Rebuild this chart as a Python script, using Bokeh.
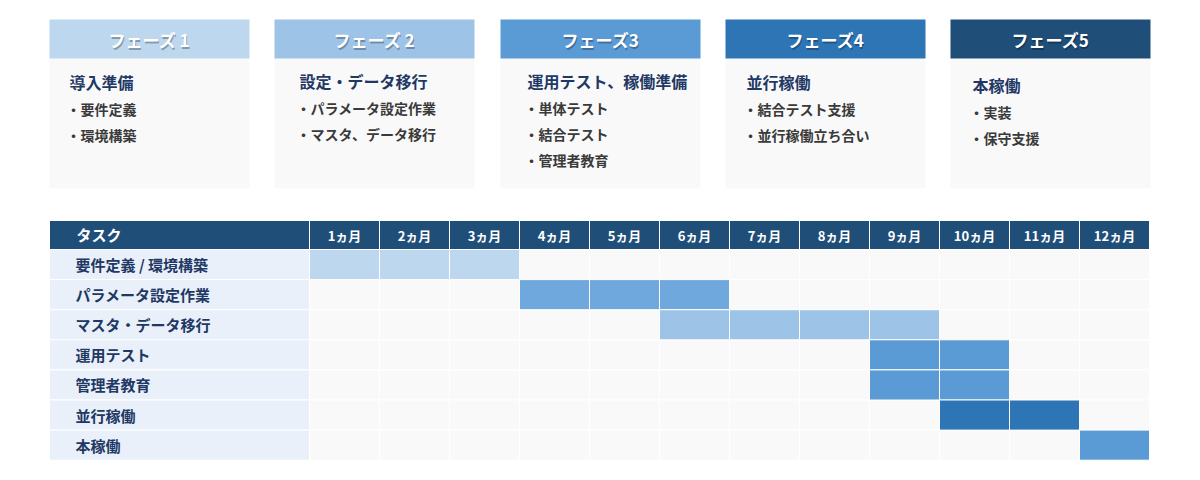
from bokeh.plotting import figure
from bokeh.models import Range1d, ColumnDataSource
from bokeh.core.properties import value
from bokeh.embed import file_html
from bokeh.resources import INLINE

# ---------------- data ----------------
phase_names = ["フェーズ 1", "フェーズ 2", "フェーズ3", "フェーズ4", "フェーズ5"]
phase_titles = ["導入準備", "設定・データ移行", "運用テスト、稼働準備", "並行稼働", "本稼働"]
phase_items = [
    ["要件定義", "環境構築"],
    ["パラメータ設定作業", "マスタ、データ移行"],
    ["単体テスト", "結合テスト", "管理者教育"],
    ["結合テスト支援", "並行稼働立ち合い"],
    ["実装", "保守支援"],
]
phase_colors = ["#BDD7EE", "#9DC3E6", "#5B9BD5", "#2E75B6", "#1F4E79"]

months = ["1ヵ月", "2ヵ月", "3ヵ月", "4ヵ月", "5ヵ月", "6ヵ月",
          "7ヵ月", "8ヵ月", "9ヵ月", "10ヵ月", "11ヵ月", "12ヵ月"]
tasks = ["要件定義 / 環境構築", "パラメータ設定作業", "マスタ・データ移行",
         "運用テスト", "管理者教育", "並行稼働", "本稼働"]
task_start = [1, 4, 6, 9, 9, 10, 12]
task_end = [3, 6, 9, 10, 10, 11, 12]
task_colors = ["#BDD7EE", "#6FA8DC", "#9DC3E6", "#5B9BD5", "#5B9BD5", "#2E75B6", "#5B9BD5"]

# ---------------- layout (page pixels -> chart units) ----------------
W, H = 1184, 464
ORIGIN = 0     # page offset of the figure frame
UX = 70.0      # px per month
X0 = 309.0     # page x of month 0
UY = 30.1      # px per task row
Y0 = 249.0     # page y of first task row top


def px(x):
    return (x - X0) / UX


def py(y):
    return (y - Y0) / UY


FONT = value("Noto Sans CJK JP")

p = figure(width=W, height=H, output_backend="svg", toolbar_location=None,
           x_range=Range1d(px(ORIGIN), px(ORIGIN + W)),
           y_range=Range1d(py(ORIGIN + H), py(ORIGIN)),
           x_axis_location=None, y_axis_location=None,
           min_border=0, min_border_left=0, min_border_right=0,
           min_border_top=0, min_border_bottom=0,
           outline_line_color=None, background_fill_color="white",
           border_fill_color="white")
p.xgrid.visible = False
p.ygrid.visible = False

# ---------------- phase boxes ----------------
box_left = [49, 274, 500, 725, 950]
box_w = 200
title_dx = [20, 25, 27, 21, 22]
title_y = [81, 80, 80, 81, 84]

p.quad(left=[px(b) for b in box_left], right=[px(b + box_w) for b in box_left],
       top=[py(58)] * 5, bottom=[py(188)] * 5,
       fill_color="#F9F9F9", line_color=None)
p.quad(left=[px(b) for b in box_left], right=[px(b + box_w) for b in box_left],
       top=[py(19)] * 5, bottom=[py(58)] * 5,
       fill_color=phase_colors, line_color=None)

hx = [px(b + box_w / 2) for b in box_left]
hy = [py(39)] * 5
p.text(x=hx, y=hy, text=phase_names, text_font=FONT, text_font_style="bold",
       text_font_size="17px", text_color="#000000", text_alpha=0.28,
       text_align="center", text_baseline="middle", x_offset=1, y_offset=1.5)
p.text(x=hx, y=hy, text=phase_names, text_font=FONT, text_font_style="bold",
       text_font_size="17px", text_color="white",
       text_align="center", text_baseline="middle")

tx, ty, tt = [], [], []
bx, by, bt = [], [], []
for i, b in enumerate(box_left):
    tx.append(px(b + title_dx[i]))
    ty.append(py(title_y[i]))
    tt.append(phase_titles[i])
    for j, item in enumerate(phase_items[i]):
        bx.append(px(b + title_dx[i] - 3))
        by.append(py(title_y[i] + 27 + 26 * j))
        bt.append("・" + item)
p.text(x=tx, y=ty, text=tt, text_font=FONT, text_font_style="bold",
       text_font_size="16px", text_color="#1F3864",
       text_align="left", text_baseline="middle")
p.text(x=bx, y=by, text=bt, text_font=FONT, text_font_style="bold",
       text_font_size="14px", text_color="#3A3A3A",
       text_align="left", text_baseline="middle")

# ---------------- gantt table ----------------
n_rows = len(tasks)
n_m = len(months)
task_left = px(49)

# header row
p.quad(left=[task_left] + [m for m in range(n_m)],
       right=[0] + [m + 1 for m in range(n_m)],
       top=[py(220)] * (n_m + 1), bottom=[0] * (n_m + 1),
       fill_color="#1F4E79", line_color="white", line_width=1)
p.text(x=[px(76)], y=[py(234)], text=["タスク"], text_font=FONT,
       text_font_style="bold", text_font_size="15px", text_color="white",
       text_align="left", text_baseline="middle")
p.text(x=[m + 0.5 for m in range(n_m)], y=[py(235)] * n_m, text=months,
       text_font=FONT, text_font_style="bold", text_font_size="13px",
       text_color="white", text_align="center", text_baseline="middle")

# task column
p.quad(left=[task_left] * n_rows, right=[0] * n_rows,
       top=[r for r in range(n_rows)], bottom=[r + 1 for r in range(n_rows)],
       fill_color="#E9F0F9", line_color="white", line_width=1)
p.text(x=[px(75)] * n_rows, y=[r + 0.5 for r in range(n_rows)], text=tasks,
       text_font=FONT, text_font_style="bold", text_font_size="15px",
       text_color="#1F3864", text_align="left", text_baseline="middle")

# empty cells
cx, cy = [], []
for r in range(n_rows):
    for m in range(n_m):
        cx.append(m + 0.5)
        cy.append(r + 0.5)
p.rect(x=cx, y=cy, width=1, height=1, fill_color="#F9F9F9",
       line_color="#FFFFFF", line_width=1)

# bars (one cell per active month)
src = dict(x=[], y=[], c=[])
for r in range(n_rows):
    for m in range(task_start[r], task_end[r] + 1):
        src["x"].append(m - 0.5)
        src["y"].append(r + 0.5)
        src["c"].append(task_colors[r])
p.rect(x="x", y="y", width=1, height=1, fill_color="c", line_color="white",
       line_width=1, source=ColumnDataSource(src))

open("out.html", "w").write(file_html(p, INLINE))
